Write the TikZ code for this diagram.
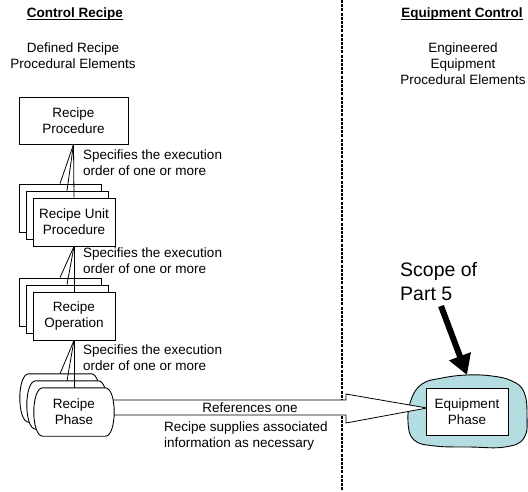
\documentclass[tikz,border=0pt]{standalone}
\usepackage{fontspec}
\setmainfont{Liberation Sans}
\usetikzlibrary{arrows.meta}
\definecolor{scopeblue}{RGB}{180,221,226}
% bold heading with an underline that sits just under the baseline
\newcommand{\headul}[1]{\setbox0\hbox{\bfseries #1}\rlap{\rule[-2pt]{\wd0}{0.9pt}}\box0}
% rounded outline of a phase element, drawn around a (text-free) node
\newcommand{\phaseoutline}[1]{%
  \draw[line width=0.9pt, fill=white]
    ([xshift=12pt]#1.north west) -- ([xshift=-12pt]#1.north east)
    .. controls (#1.north east) and (#1.south east) .. ([xshift=-12pt]#1.south east)
    -- ([xshift=12pt]#1.south west)
    .. controls (#1.south west) and (#1.north west) .. ([xshift=12pt]#1.north west) -- cycle;}

\begin{document}
\begin{tikzpicture}[x=1pt,y=-1pt,
  txt/.style={font=\fontsize{13.5}{16}\selectfont, inner sep=0pt},
  elem/.style={draw, fill=white, line width=0.9pt, minimum width=82pt,
    minimum height=48pt, inner sep=0pt, align=center, font=\fontsize{13.5}{16}\selectfont},
  phasebox/.style={minimum width=86pt, minimum height=48pt, inner sep=0pt},
  link/.style={line width=0.8pt},
  note/.style={txt, anchor=west, align=left}
]
\useasboundingbox (0,0) rectangle (528,491);

% ---- headings ----
\node[txt] (hcr) at (75,14) {\headul{Control Recipe}};
\node[txt] (hec) at (462,14) {\headul{Equipment Control}};
\node[txt, align=center] (defd) at (73,56) {Defined Recipe\\Procedural Elements};
\node[txt, align=center] (engd) at (463,64) {Engineered\\Equipment\\Procedural Elements};

% ---- boundary between recipe and equipment ----
\coordinate (dtop) at (342,0);
\coordinate (dbot) at (342,491);
\draw[line width=1.2pt, dash pattern=on 3pt off 1.2pt] (dtop) -- (dbot);

% ---- recipe procedure ----
\node[elem, minimum width=109pt, minimum height=47pt] (proc) at (73.5,120.5) {Recipe\\Procedure};

% ---- recipe unit procedures ----
\node[elem] (rupA) at (60,208) {};
\node[elem] (rupB) at (67,215) {};
\node[elem] (rupC) at (74,222) {Recipe Unit\\Procedure};
\foreach \t in {rupA,rupB,rupC} \draw[link] (proc.south) -- (\t.north);
\node[note] (sp1) at (83,163) {Specifies the execution\\order of one or more};

% ---- recipe operations ----
\node[elem] (roA) at (60,302) {};
\node[elem] (roB) at (67,309) {};
\node[elem] (roC) at (74,316) {Recipe\\Operation};
\foreach \t in {roA,roB,roC} \draw[link] (rupC.south) -- (\t.north);
\node[note] (sp2) at (83,261) {Specifies the execution\\order of one or more};

% ---- equipment side: scope cloud ----
\draw[line width=0.9pt, fill=scopeblue] plot[smooth cycle, tension=0.7] coordinates
  {(422,384) (442,378) (467,375) (492,376) (512,381) (524,392) (527,415)
   (524,438) (505,447) (470,447) (435,446) (414,440) (408,422) (411,400)};

% ---- recipe phases (positions) ----
\path node[phasebox] (phA) at (60,398) {}
      node[phasebox] (phB) at (67,405) {}
      node[phasebox] (phC) at (74,412) {};

% ---- reference arrow from recipe phase to equipment phase ----
\coordinate (sTop) at (0,400);
\coordinate (sBot) at (0,415);
\coordinate (hTop) at (346,394);
\coordinate (hBot) at (346,423);
\coordinate (tip) at (427,408);
\draw[line width=0.8pt, fill=white]
  (phC.center |- sTop) -- (hTop |- sTop) -- (hTop) -- (tip) -- (hBot)
  -- (hBot |- sBot) -- (phC.center |- sBot);
\node[txt] (refs) at (250,408) {References one};
\node[note] (supp) at (164,436.5) {Recipe supplies associated\\information as necessary};

% ---- recipe phase outlines, back to front ----
\phaseoutline{phA}
\phaseoutline{phB}
\phaseoutline{phC}
\node[txt, align=center] (phtext) at (phC.center) {Recipe\\Phase};
\foreach \t in {phA,phB,phC} \draw[link] (roC.south) -- (\t.north);
\node[note] (sp3) at (83,357.5) {Specifies the execution\\order of one or more};

% ---- equipment phase ----
\node[elem, minimum height=47pt] (eq) at (467,411.5) {Equipment\\Phase};

% ---- scope marker ----
\node[anchor=west, align=left, inner sep=0pt, font=\fontsize{19.5}{24}\selectfont]
  (scope) at (400,282) {Scope of\\Part 5};
\coordinate (scopetail) at (441,306);
\coordinate (blobtop) at (467,375);
\draw[line width=6pt, -{Triangle[length=20pt, width=22pt]}] (scopetail) -- (blobtop);
\end{tikzpicture}
\end{document}
